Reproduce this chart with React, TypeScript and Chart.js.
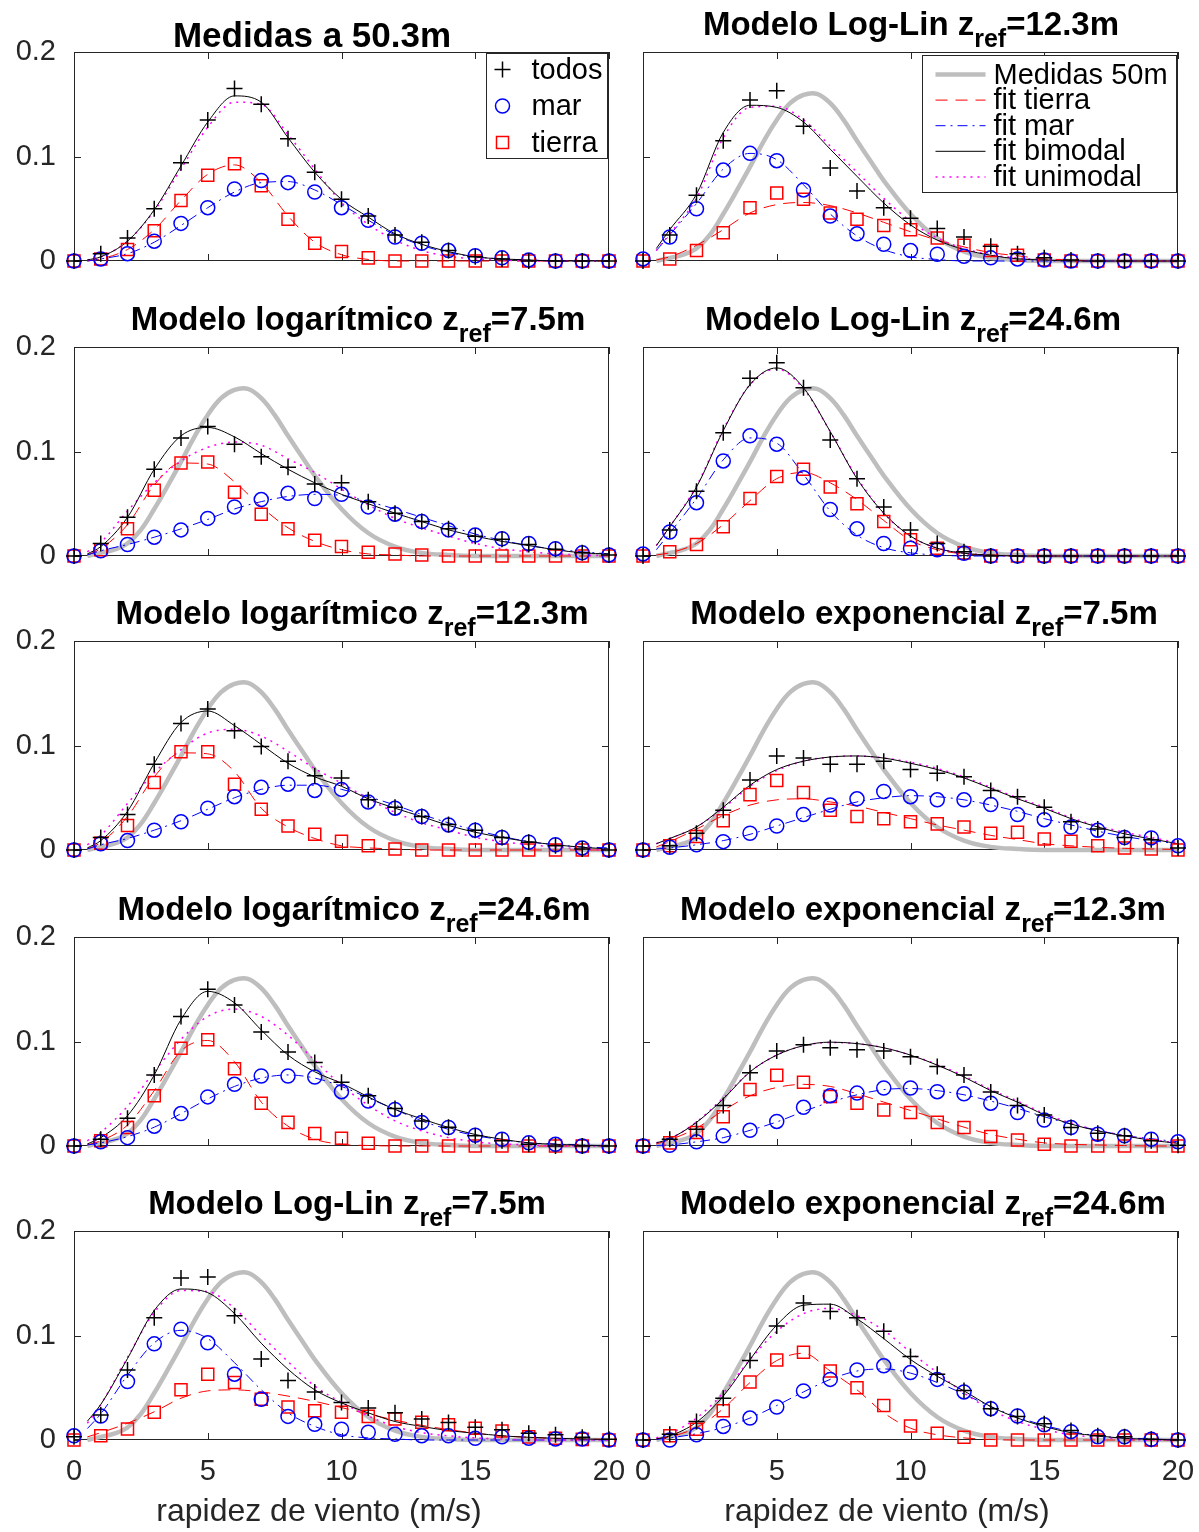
import React, { useEffect, useRef } from "react";
import { Chart, registerables } from "chart.js";

Chart.register(...registerables);

// ---------------------------------------------------------------------------
// Data
// ---------------------------------------------------------------------------

// wind-speed bins (m/s) of the normalised histograms
const viento = [0, 1, 2, 3, 4, 5, 6, 7, 8, 9, 10, 11, 12, 13, 14, 15, 16, 17, 18, 19, 20];
// abscissas of the fitted densities
const vientoFit = [0.5, 1, 2, 3, 4, 5, 6, 7, 8, 9, 10, 11, 12, 13, 14, 15, 16, 17, 18, 19, 20];

const X_TICKS = [0, 5, 10, 15, 20];
const Y_TICKS = [0, 0.1, 0.2];

// reference density measured at 50 m (sampled more finely around the mode)
const vientoRef = [0.5, 1, 1.5, 2, 2.5, 3, 3.5, 4, 4.5, 5, 5.5, 6, 6.5, 7, 7.5, 8, 8.5, 9, 10, 11, 12, 13, 14, 15, 20];
const medidas50m = [0, 0.003, 0.006, 0.012, 0.025, 0.045, 0.067, 0.09, 0.114, 0.135, 0.151, 0.159, 0.16, 0.151, 0.135, 0.115, 0.096, 0.077, 0.045, 0.022, 0.009, 0.003, 0.001, 0, 0];

// Medidas a 50.3m
const todosMed = [0, 0.007, 0.022, 0.05, 0.094, 0.135, 0.165, 0.15, 0.117, 0.085, 0.059, 0.043, 0.025, 0.018, 0.01, 0.004, 0.002, 0, 0, 0, 0];
const marMed = [0, 0.002, 0.007, 0.019, 0.036, 0.051, 0.069, 0.077, 0.075, 0.066, 0.051, 0.039, 0.023, 0.017, 0.01, 0.005, 0.003, 0.001, 0, 0, 0];
const tierraMed = [0, 0.002, 0.011, 0.029, 0.058, 0.082, 0.093, 0.072, 0.04, 0.017, 0.009, 0.003, 0, 0, 0, 0, 0, 0, 0, 0, 0];
const fitTierraMed = [0, 0.002, 0.011, 0.03, 0.058, 0.083, 0.092, 0.075, 0.043, 0.018, 0.006, 0.0015, 0, 0, 0, 0, 0, 0, 0, 0, 0];
const fitMarMed = [0, 0.002, 0.007, 0.018, 0.034, 0.051, 0.066, 0.075, 0.076, 0.068, 0.054, 0.039, 0.025, 0.015, 0.008, 0.004, 0.002, 0.001, 0, 0, 0];
const fitBiMed = [0.001, 0.004, 0.019, 0.049, 0.091, 0.133, 0.158, 0.152, 0.118, 0.085, 0.059, 0.042, 0.026, 0.016, 0.009, 0.004, 0.002, 0.001, 0, 0, 0];
const fitUniMed = [0.001, 0.004, 0.019, 0.048, 0.088, 0.128, 0.152, 0.15, 0.121, 0.088, 0.056, 0.035, 0.02, 0.01, 0.0045, 0.002, 0.001, 0, 0, 0, 0];

// Modelo Log-Lin z_ref = 12.3 m
const todosLL12 = [0, 0.025, 0.063, 0.115, 0.154, 0.163, 0.129, 0.089, 0.067, 0.051, 0.041, 0.031, 0.023, 0.014, 0.007, 0.003, 0.001, 0, 0, 0, 0];
const marLL12 = [0.002, 0.023, 0.05, 0.087, 0.103, 0.096, 0.068, 0.043, 0.026, 0.016, 0.01, 0.0065, 0.0045, 0.003, 0.002, 0.001, 0, 0, 0, 0, 0];
const tierraLL12 = [0, 0.002, 0.01, 0.027, 0.051, 0.065, 0.059, 0.046, 0.04, 0.034, 0.03, 0.022, 0.015, 0.01, 0.0055, 0.001, 0, 0, 0, 0, 0];
const fitTierraLL12 = [0.001, 0.004, 0.015, 0.03, 0.046, 0.054, 0.056, 0.053, 0.046, 0.037, 0.028, 0.02, 0.0135, 0.008, 0.005, 0.002, 0.001, 0, 0, 0, 0];
const fitMarLL12 = [0.01, 0.025, 0.055, 0.088, 0.103, 0.097, 0.073, 0.045, 0.024, 0.011, 0.004, 0.0015, 0, 0, 0, 0, 0, 0, 0, 0, 0];
const fitBiLL12 = [0.012, 0.03, 0.064, 0.123, 0.149, 0.147, 0.133, 0.107, 0.081, 0.0555, 0.0345, 0.02, 0.011, 0.0055, 0.002, 0.001, 0, 0, 0, 0, 0];
const fitUniLL12 = [0.01, 0.026, 0.06, 0.118, 0.147, 0.148, 0.135, 0.11, 0.085, 0.06, 0.038, 0.022, 0.012, 0.006, 0.003, 0.001, 0, 0, 0, 0, 0];

// Modelo logarítmico z_ref = 7.5 m
const todosLg7 = [0, 0.012, 0.037, 0.083, 0.113, 0.124, 0.107, 0.095, 0.085, 0.069, 0.07, 0.052, 0.041, 0.033, 0.026, 0.019, 0.016, 0.011, 0.0065, 0.003, 0.001];
const marLg7 = [0, 0.005, 0.011, 0.018, 0.025, 0.036, 0.047, 0.054, 0.06, 0.055, 0.059, 0.047, 0.04, 0.033, 0.025, 0.02, 0.0165, 0.012, 0.007, 0.003, 0.001];
const tierraLg7 = [0, 0.006, 0.026, 0.063, 0.089, 0.09, 0.061, 0.04, 0.026, 0.015, 0.009, 0.0035, 0.002, 0.001, 0, 0, 0, 0, 0, 0, 0];
const fitTierraLg7 = [0.001, 0.007, 0.03, 0.068, 0.089, 0.088, 0.071, 0.047, 0.027, 0.014, 0.006, 0.002, 0.001, 0, 0, 0, 0, 0, 0, 0, 0];
const fitMarLg7 = [0.001, 0.005, 0.011, 0.018, 0.026, 0.035, 0.045, 0.052, 0.057, 0.059, 0.058, 0.052, 0.045, 0.037, 0.029, 0.021, 0.015, 0.01, 0.0065, 0.004, 0.002];
const fitBiLg7 = [0.002, 0.009, 0.037, 0.083, 0.115, 0.123, 0.114, 0.098, 0.083, 0.07, 0.059, 0.05, 0.041, 0.033, 0.025, 0.019, 0.014, 0.01, 0.006, 0.003, 0.002];
const fitUniLg7 = [0.004, 0.013, 0.043, 0.07, 0.091, 0.104, 0.109, 0.106, 0.093, 0.08, 0.064, 0.049, 0.036, 0.027, 0.019, 0.012, 0.007, 0.004, 0.002, 0.001, 0];

// Modelo Log-Lin z_ref = 24.6 m
const todosLL24 = [0, 0.025, 0.062, 0.118, 0.17, 0.185, 0.161, 0.111, 0.074, 0.047, 0.025, 0.012, 0.004, 0, 0, 0, 0, 0, 0, 0, 0];
const marLL24 = [0.002, 0.023, 0.051, 0.091, 0.115, 0.107, 0.075, 0.0445, 0.026, 0.012, 0.0074, 0.006, 0.0026, 0, 0, 0, 0, 0, 0, 0, 0];
const tierraLL24 = [0, 0.004, 0.011, 0.028, 0.055, 0.076, 0.083, 0.066, 0.05, 0.033, 0.0155, 0.0074, 0.003, 0, 0, 0, 0, 0, 0, 0, 0];
const fitTierraLL24 = [0.001, 0.003, 0.012, 0.03, 0.053, 0.074, 0.08, 0.07, 0.054, 0.034, 0.015, 0.006, 0.002, 0.001, 0, 0, 0, 0, 0, 0, 0];
const fitMarLL24 = [0.006, 0.022, 0.055, 0.092, 0.113, 0.108, 0.078, 0.043, 0.02, 0.008, 0.003, 0.001, 0, 0, 0, 0, 0, 0, 0, 0, 0];
const fitBiLL24 = [0.01, 0.028, 0.066, 0.12, 0.164, 0.18, 0.161, 0.119, 0.074, 0.041, 0.019, 0.0074, 0.0026, 0.001, 0, 0, 0, 0, 0, 0, 0];
const fitUniLL24 = [0.01, 0.028, 0.067, 0.121, 0.164, 0.179, 0.16, 0.119, 0.075, 0.041, 0.019, 0.0075, 0.0027, 0.001, 0, 0, 0, 0, 0, 0, 0];

// Modelo logarítmico z_ref = 12.3 m
const todosLg12 = [0, 0.012, 0.034, 0.082, 0.121, 0.135, 0.114, 0.099, 0.085, 0.071, 0.069, 0.048, 0.041, 0.032, 0.0245, 0.019, 0.012, 0.0074, 0.004, 0.001, 0];
const marLg12 = [0, 0.006, 0.009, 0.019, 0.027, 0.04, 0.051, 0.06, 0.063, 0.057, 0.058, 0.046, 0.04, 0.032, 0.024, 0.019, 0.012, 0.0074, 0.005, 0.002, 0];
const tierraLg12 = [0, 0.0065, 0.0235, 0.0645, 0.094, 0.094, 0.063, 0.039, 0.023, 0.015, 0.0084, 0.004, 0.001, 0, 0, 0, 0, 0, 0, 0, 0];
const fitTierraLg12 = [0.001, 0.007, 0.032, 0.07, 0.093, 0.092, 0.075, 0.04, 0.022, 0.011, 0.004, 0.002, 0.001, 0, 0, 0, 0, 0, 0, 0, 0];
const fitMarLg12 = [0.001, 0.005, 0.011, 0.019, 0.028, 0.039, 0.05, 0.058, 0.062, 0.062, 0.058, 0.051, 0.043, 0.034, 0.026, 0.019, 0.013, 0.008, 0.005, 0.003, 0.002];
const fitBiLg12 = [0.002, 0.009, 0.037, 0.083, 0.122, 0.133, 0.119, 0.101, 0.083, 0.07, 0.061, 0.049, 0.04, 0.032, 0.0235, 0.017, 0.012, 0.008, 0.005, 0.0026, 0.001];
const fitUniLg12 = [0.005, 0.014, 0.0445, 0.074, 0.096, 0.112, 0.1155, 0.109, 0.0945, 0.078, 0.064, 0.049, 0.036, 0.026, 0.019, 0.012, 0.008, 0.005, 0.003, 0.001, 0];

// Modelo exponencial z_ref = 7.5 m
const todosEx7 = [0, 0.004, 0.016, 0.038, 0.067, 0.09, 0.088, 0.082, 0.082, 0.085, 0.077, 0.0735, 0.07, 0.057, 0.051, 0.041, 0.027, 0.02, 0.012, 0.0097, 0.002];
const marEx7 = [0, 0.0026, 0.005, 0.008, 0.016, 0.023, 0.034, 0.043, 0.049, 0.056, 0.051, 0.048, 0.048, 0.0435, 0.034, 0.029, 0.022, 0.019, 0.012, 0.0116, 0.004];
const tierraEx7 = [0, 0.004, 0.013, 0.028, 0.053, 0.0665, 0.055, 0.038, 0.032, 0.03, 0.027, 0.025, 0.022, 0.016, 0.017, 0.0106, 0.0084, 0.004, 0.002, 0.001, 0];
const fitTierraEx7 = [0.003, 0.008, 0.02, 0.033, 0.043, 0.048, 0.049, 0.046, 0.042, 0.036, 0.03, 0.024, 0.019, 0.014, 0.01, 0.006, 0.004, 0.0026, 0.0016, 0.001, 0.0005];
const fitMarEx7 = [0.001, 0.002, 0.005, 0.009, 0.015, 0.023, 0.031, 0.039, 0.046, 0.05, 0.052, 0.051, 0.048, 0.043, 0.037, 0.03, 0.024, 0.018, 0.013, 0.009, 0.006];
const fitBiEx7 = [0.006, 0.011, 0.022, 0.041, 0.062, 0.077, 0.085, 0.089, 0.09, 0.088, 0.083, 0.077, 0.069, 0.059, 0.049, 0.04, 0.03, 0.022, 0.0155, 0.0106, 0.006];
const fitUniEx7 = [0.006, 0.011, 0.022, 0.04, 0.061, 0.076, 0.085, 0.089, 0.09, 0.088, 0.084, 0.078, 0.07, 0.06, 0.05, 0.041, 0.031, 0.023, 0.017, 0.012, 0.007];

// Modelo logarítmico z_ref = 24.6 m
const todosLg24 = [0, 0.0065, 0.0265, 0.068, 0.124, 0.15, 0.135, 0.109, 0.09, 0.08, 0.061, 0.048, 0.036, 0.024, 0.018, 0.0097, 0.005, 0.0016, 0, 0, 0];
const marLg24 = [0, 0.004, 0.008, 0.019, 0.031, 0.047, 0.059, 0.067, 0.067, 0.066, 0.052, 0.043, 0.035, 0.0226, 0.0177, 0.0103, 0.0065, 0.003, 0.0016, 0, 0];
const tierraLg24 = [0, 0.005, 0.0177, 0.048, 0.0935, 0.1016, 0.074, 0.041, 0.0226, 0.012, 0.0074, 0.0026, 0, 0, 0, 0, 0, 0, 0, 0, 0];
const fitTierraLg24 = [0.001, 0.005, 0.02, 0.053, 0.091, 0.101, 0.0806, 0.042, 0.019, 0.0065, 0.0016, 0.0005, 0, 0, 0, 0, 0, 0, 0, 0, 0];
const fitMarLg24 = [0.001, 0.003, 0.009, 0.018, 0.031, 0.045, 0.057, 0.065, 0.068, 0.065, 0.057, 0.046, 0.035, 0.024, 0.016, 0.01, 0.006, 0.003, 0.002, 0.001, 0];
const fitBiLg24 = [0.002, 0.008, 0.029, 0.068, 0.121, 0.148, 0.137, 0.111, 0.087, 0.071, 0.06, 0.047, 0.035, 0.026, 0.0177, 0.011, 0.0065, 0.003, 0.0016, 0.0006, 0];
const fitUniLg24 = [0.005, 0.013, 0.038, 0.071, 0.102, 0.124, 0.131, 0.124, 0.106, 0.082, 0.058, 0.039, 0.024, 0.0145, 0.008, 0.004, 0.002, 0.001, 0, 0, 0];

// Modelo exponencial z_ref = 12.3 m
const todosEx12 = [0, 0.0065, 0.016, 0.0387, 0.07, 0.091, 0.097, 0.094, 0.092, 0.091, 0.0855, 0.076, 0.068, 0.0516, 0.0387, 0.0297, 0.0177, 0.0123, 0.0097, 0.005, 0.0006];
const marEx12 = [0, 0.0006, 0.004, 0.0097, 0.015, 0.0235, 0.037, 0.048, 0.0506, 0.0555, 0.0555, 0.052, 0.05, 0.041, 0.032, 0.0248, 0.0177, 0.0113, 0.0097, 0.0065, 0.004];
const tierraEx12 = [0, 0.003, 0.013, 0.028, 0.054, 0.0677, 0.061, 0.0474, 0.041, 0.0345, 0.032, 0.0226, 0.0177, 0.009, 0.0058, 0.0016, 0, 0, 0, 0, 0];
const fitTierraEx12 = [0.002, 0.006, 0.017, 0.034, 0.048, 0.056, 0.059, 0.057, 0.05, 0.042, 0.034, 0.026, 0.018, 0.011, 0.0065, 0.003, 0.0016, 0.001, 0.0004, 0, 0];
const fitMarEx12 = [0.0005, 0.001, 0.004, 0.008, 0.015, 0.023, 0.033, 0.042, 0.049, 0.054, 0.055, 0.053, 0.049, 0.043, 0.036, 0.028, 0.021, 0.015, 0.01, 0.007, 0.004];
const fitBiEx12 = [0.003, 0.007, 0.0226, 0.045, 0.071, 0.087, 0.096, 0.0994, 0.098, 0.094, 0.087, 0.0774, 0.066, 0.053, 0.042, 0.03, 0.021, 0.0145, 0.0097, 0.0055, 0.0026];
const fitUniEx12 = [0.003, 0.007, 0.023, 0.046, 0.071, 0.087, 0.096, 0.099, 0.098, 0.094, 0.087, 0.078, 0.067, 0.054, 0.043, 0.031, 0.022, 0.015, 0.01, 0.006, 0.003];

// Modelo Log-Lin z_ref = 7.5 m
const todosLL7 = [0.003, 0.024, 0.067, 0.117, 0.155, 0.156, 0.119, 0.0774, 0.057, 0.046, 0.036, 0.0306, 0.026, 0.02, 0.0168, 0.0123, 0.0097, 0.0065, 0.005, 0.0026, 0.0006];
const marLL7 = [0.004, 0.023, 0.056, 0.092, 0.106, 0.093, 0.063, 0.039, 0.0226, 0.015, 0.0103, 0.0074, 0.0055, 0.004, 0.004, 0.0016, 0.003, 0.0016, 0.001, 0.001, 0];
const tierraLL7 = [0, 0.004, 0.0106, 0.0265, 0.048, 0.063, 0.055, 0.039, 0.0316, 0.028, 0.0265, 0.0226, 0.02, 0.017, 0.0145, 0.0113, 0.0087, 0.003, 0.0016, 0.0006, 0];
const fitTierraLL7 = [0.003, 0.007, 0.016, 0.027, 0.04, 0.047, 0.048, 0.046, 0.042, 0.037, 0.031, 0.025, 0.019, 0.014, 0.01, 0.0065, 0.004, 0.0026, 0.0016, 0.001, 0.0005];
const fitMarLL7 = [0.011, 0.025, 0.062, 0.093, 0.105, 0.097, 0.074, 0.048, 0.026, 0.013, 0.005, 0.002, 0.001, 0, 0, 0, 0, 0, 0, 0, 0];
const fitBiLL7 = [0.018, 0.034, 0.078, 0.124, 0.1445, 0.141, 0.121, 0.0926, 0.0677, 0.048, 0.0355, 0.026, 0.0177, 0.013, 0.009, 0.0065, 0.004, 0.0026, 0.0016, 0.001, 0.0005];
const fitUniLL7 = [0.016, 0.034, 0.079, 0.122, 0.143, 0.142, 0.126, 0.1, 0.075, 0.0516, 0.036, 0.023, 0.013, 0.007, 0.004, 0.002, 0.001, 0, 0, 0, 0];

// Modelo exponencial z_ref = 24.6 m
const todosEx24 = [0, 0.0055, 0.0177, 0.04, 0.076, 0.109, 0.131, 0.123, 0.117, 0.104, 0.08, 0.063, 0.0474, 0.03, 0.0226, 0.0155, 0.009, 0.004, 0.003, 0.0006, 0];
const marEx24 = [0, 0, 0.005, 0.013, 0.021, 0.0316, 0.047, 0.058, 0.067, 0.071, 0.0645, 0.058, 0.046, 0.03, 0.023, 0.0145, 0.008, 0.003, 0.003, 0.0006, 0];
const tierraEx24 = [0, 0.004, 0.0103, 0.028, 0.0555, 0.0765, 0.0839, 0.066, 0.05, 0.033, 0.0135, 0.0065, 0.0026, 0, 0, 0, 0, 0, 0, 0, 0];
const fitTierraEx24 = [0.001, 0.003, 0.012, 0.03, 0.055, 0.076, 0.083, 0.066, 0.048, 0.026, 0.0113, 0.005, 0.002, 0.0005, 0, 0, 0, 0, 0, 0, 0];
const fitMarEx24 = [0.0005, 0.002, 0.006, 0.012, 0.021, 0.033, 0.046, 0.058, 0.066, 0.068, 0.064, 0.055, 0.044, 0.032, 0.022, 0.014, 0.008, 0.004, 0.002, 0.001, 0];
const fitBiEx24 = [0.001, 0.004, 0.017, 0.042, 0.077, 0.11, 0.129, 0.13, 0.116, 0.097, 0.077, 0.061, 0.047, 0.032, 0.021, 0.013, 0.007, 0.004, 0.0016, 0.0006, 0];
const fitUniEx24 = [0.002, 0.006, 0.021, 0.045, 0.077, 0.104, 0.121, 0.126, 0.119, 0.105, 0.084, 0.0645, 0.045, 0.029, 0.0177, 0.0103, 0.005, 0.0026, 0.001, 0, 0];

// ---------------------------------------------------------------------------
// Layout and styles
// ---------------------------------------------------------------------------

const FONT = "'Liberation Sans', Arial, Helvetica, sans-serif";
const AXIS_COLOR = "#262626";
const GRAY = "#BEBEBE";
const RED = "#FF0000";
const BLUE = "#0000FF";
const MAGENTA = "#FF00FF";

const COL_LEFT = [74, 643];
const BOX_W = 535;
const ROW_TOP = [52, 347, 641, 937, 1231];
const BOX_H = 209;
const TICK_LEN = 7;
const XLABEL_CENTER = [319, 887];

const DASH_TIERRA = [12, 8];
const DASH_MAR = [10, 5, 2, 5];
const DASH_UNI = [2, 5];

type PanelDef = {
  row: number;
  col: number;
  title: string;
  sub?: string;
  tail?: string;
  cx: number;
  size: number;
  todos: number[];
  mar: number[];
  tierra: number[];
  fitTierra: number[];
  fitMar: number[];
  fitBi: number[];
  fitUni: number[];
  ref: boolean;
  legend?: "markers" | "fits";
};

const PANELS: PanelDef[] = [
  { row: 0, col: 0, title: "Medidas a 50.3m", cx: 312, size: 35, todos: todosMed, mar: marMed, tierra: tierraMed, fitTierra: fitTierraMed, fitMar: fitMarMed, fitBi: fitBiMed, fitUni: fitUniMed, ref: false, legend: "markers" },
  { row: 0, col: 1, title: "Modelo Log-Lin z", sub: "ref", tail: "=12.3m", cx: 911, size: 33, todos: todosLL12, mar: marLL12, tierra: tierraLL12, fitTierra: fitTierraLL12, fitMar: fitMarLL12, fitBi: fitBiLL12, fitUni: fitUniLL12, ref: true, legend: "fits" },
  { row: 1, col: 0, title: "Modelo logarítmico z", sub: "ref", tail: "=7.5m", cx: 358, size: 33, todos: todosLg7, mar: marLg7, tierra: tierraLg7, fitTierra: fitTierraLg7, fitMar: fitMarLg7, fitBi: fitBiLg7, fitUni: fitUniLg7, ref: true },
  { row: 1, col: 1, title: "Modelo Log-Lin z", sub: "ref", tail: "=24.6m", cx: 913, size: 33, todos: todosLL24, mar: marLL24, tierra: tierraLL24, fitTierra: fitTierraLL24, fitMar: fitMarLL24, fitBi: fitBiLL24, fitUni: fitUniLL24, ref: true },
  { row: 2, col: 0, title: "Modelo logarítmico z", sub: "ref", tail: "=12.3m", cx: 352, size: 33, todos: todosLg12, mar: marLg12, tierra: tierraLg12, fitTierra: fitTierraLg12, fitMar: fitMarLg12, fitBi: fitBiLg12, fitUni: fitUniLg12, ref: true },
  { row: 2, col: 1, title: "Modelo exponencial z", sub: "ref", tail: "=7.5m", cx: 924, size: 33, todos: todosEx7, mar: marEx7, tierra: tierraEx7, fitTierra: fitTierraEx7, fitMar: fitMarEx7, fitBi: fitBiEx7, fitUni: fitUniEx7, ref: true },
  { row: 3, col: 0, title: "Modelo logarítmico z", sub: "ref", tail: "=24.6m", cx: 354, size: 33, todos: todosLg24, mar: marLg24, tierra: tierraLg24, fitTierra: fitTierraLg24, fitMar: fitMarLg24, fitBi: fitBiLg24, fitUni: fitUniLg24, ref: true },
  { row: 3, col: 1, title: "Modelo exponencial z", sub: "ref", tail: "=12.3m", cx: 923, size: 33, todos: todosEx12, mar: marEx12, tierra: tierraEx12, fitTierra: fitTierraEx12, fitMar: fitMarEx12, fitBi: fitBiEx12, fitUni: fitUniEx12, ref: true },
  { row: 4, col: 0, title: "Modelo Log-Lin z", sub: "ref", tail: "=7.5m", cx: 347, size: 33, todos: todosLL7, mar: marLL7, tierra: tierraLL7, fitTierra: fitTierraLL7, fitMar: fitMarLL7, fitBi: fitBiLL7, fitUni: fitUniLL7, ref: true },
  { row: 4, col: 1, title: "Modelo exponencial z", sub: "ref", tail: "=24.6m", cx: 923, size: 33, todos: todosEx24, mar: marEx24, tierra: tierraEx24, fitTierra: fitTierraEx24, fitMar: fitMarEx24, fitBi: fitBiEx24, fitUni: fitUniEx24, ref: true },
];

// ---------------------------------------------------------------------------
// Chart helpers
// ---------------------------------------------------------------------------

const pts = (xs: number[], ys: number[]) => xs.map((x, i) => ({ x, y: ys[i] }));

function curve(
  label: string,
  xs: number[],
  ys: number[],
  color: string,
  width: number,
  dash: number[],
  order: number,
  smooth = false
) {
  return {
    label,
    data: pts(xs, ys),
    borderColor: color,
    backgroundColor: color,
    borderWidth: width,
    borderDash: dash,
    pointRadius: 0,
    pointHoverRadius: 0,
    fill: false,
    cubicInterpolationMode: smooth ? "default" : "monotone",
    tension: smooth ? 0.4 : 0,
    order,
    clip: false,
  };
}

function markers(label: string, ys: number[], color: string, style: string, radius: number, order: number) {
  return {
    label,
    data: pts(viento, ys),
    showLine: false,
    pointStyle: style,
    pointRadius: radius,
    pointHoverRadius: radius,
    pointBorderColor: color,
    pointBackgroundColor: "rgba(0,0,0,0)",
    pointBorderWidth: 1.5,
    borderColor: color,
    backgroundColor: "rgba(0,0,0,0)",
    order,
    clip: false,
  };
}

function drawMarker(ctx: CanvasRenderingContext2D, style: string, x: number, y: number, color: string) {
  ctx.save();
  ctx.strokeStyle = color;
  ctx.lineWidth = 1.5;
  ctx.setLineDash([]);
  ctx.beginPath();
  if (style === "cross") {
    ctx.moveTo(x - 8, y);
    ctx.lineTo(x + 8, y);
    ctx.moveTo(x, y - 8);
    ctx.lineTo(x, y + 8);
  } else if (style === "circle") {
    ctx.arc(x, y, 7, 0, Math.PI * 2);
  } else {
    ctx.rect(x - 6, y - 6, 12, 12);
  }
  ctx.stroke();
  ctx.restore();
}

function makeFramePlugin(legend?: "markers" | "fits") {
  return {
    id: "frame",
    beforeDatasetsDraw(chart: any) {
      const { ctx, chartArea: a, scales } = chart;
      const x = scales.x;
      const y = scales.y;
      ctx.save();
      ctx.strokeStyle = AXIS_COLOR;
      ctx.lineWidth = 1;
      ctx.setLineDash([]);
      ctx.strokeRect(a.left + 0.5, a.top + 0.5, a.right - a.left - 1, a.bottom - a.top - 1);
      ctx.beginPath();
      for (const v of X_TICKS) {
        const px = Math.round(x.getPixelForValue(v)) + 0.5;
        ctx.moveTo(px, a.bottom);
        ctx.lineTo(px, a.bottom - TICK_LEN);
        ctx.moveTo(px, a.top);
        ctx.lineTo(px, a.top + TICK_LEN);
      }
      for (const v of Y_TICKS) {
        const py = Math.round(y.getPixelForValue(v)) + 0.5;
        ctx.moveTo(a.left, py);
        ctx.lineTo(a.left + TICK_LEN, py);
        ctx.moveTo(a.right, py);
        ctx.lineTo(a.right - TICK_LEN, py);
      }
      ctx.stroke();
      ctx.restore();
    },
    afterDraw(chart: any) {
      if (!legend) return;
      const { ctx, chartArea: a } = chart;
      ctx.save();
      ctx.font = `29px ${FONT}`;
      ctx.textBaseline = "middle";
      ctx.textAlign = "left";
      if (legend === "markers") {
        const bw = 121;
        const bh = 105;
        const bx = Math.round(a.right - bw - 2) + 0.5;
        const by = Math.round(a.top + 1) + 0.5;
        ctx.fillStyle = "#FFFFFF";
        ctx.fillRect(bx, by, bw, bh);
        ctx.strokeStyle = AXIS_COLOR;
        ctx.lineWidth = 1;
        ctx.strokeRect(bx, by, bw, bh);
        const items: [string, string, string][] = [
          ["todos", "cross", "#000000"],
          ["mar", "circle", BLUE],
          ["tierra", "rect", RED],
        ];
        items.forEach(([label, style, color], i) => {
          const cy = by + 16 + i * 36.5;
          drawMarker(ctx, style, bx + 16, cy, color);
          ctx.fillStyle = "#000000";
          ctx.fillText(label, bx + 45, cy + 1);
        });
      } else {
        const bw = 254;
        const bh = 137;
        const bx = Math.round(a.right - bw - 2) + 0.5;
        const by = Math.round(a.top + 3) + 0.5;
        ctx.fillStyle = "#FFFFFF";
        ctx.fillRect(bx, by, bw, bh);
        ctx.strokeStyle = AXIS_COLOR;
        ctx.lineWidth = 1;
        ctx.strokeRect(bx, by, bw, bh);
        const items: [string, string, number, number[]][] = [
          ["Medidas 50m", GRAY, 4.5, []],
          ["fit tierra", RED, 1, DASH_TIERRA],
          ["fit mar", BLUE, 1, DASH_MAR],
          ["fit bimodal", "#000000", 1, []],
          ["fit unimodal", MAGENTA, 1.5, DASH_UNI],
        ];
        items.forEach(([label, color, w, dash], i) => {
          const cy = by + 19 + i * 25.6;
          ctx.save();
          ctx.strokeStyle = color;
          ctx.lineWidth = w;
          ctx.setLineDash(dash);
          ctx.beginPath();
          ctx.moveTo(bx + 13, cy);
          ctx.lineTo(bx + 63, cy);
          ctx.stroke();
          ctx.restore();
          ctx.fillStyle = "#000000";
          ctx.fillText(label, bx + 71, cy + 1);
        });
      }
      ctx.restore();
    },
  };
}

function geometry(p: PanelDef) {
  const axW = p.col === 0 ? 74 : 34;
  const padT = 40;
  const padR = 40;
  const padB = p.row === 4 ? 70 : 40;
  const boxL = COL_LEFT[p.col];
  const boxT = ROW_TOP[p.row];
  return {
    axW,
    padT,
    padR,
    padB,
    x: boxL - axW,
    y: boxT - padT,
    w: axW + BOX_W + padR,
    h: padT + BOX_H + padB,
  };
}

function PanelChart({ p }: { p: PanelDef }) {
  const ref = useRef<HTMLCanvasElement | null>(null);
  const g = geometry(p);

  useEffect(() => {
    if (!ref.current) return;
    const datasets: any[] = [];
    if (p.ref) datasets.push(curve("Medidas 50m", vientoRef, medidas50m, GRAY, 4.5, [], 10, true));
    datasets.push(curve("fit tierra", vientoFit, p.fitTierra, RED, 1, DASH_TIERRA, 8));
    datasets.push(curve("fit mar", vientoFit, p.fitMar, BLUE, 1, DASH_MAR, 7));
    datasets.push(curve("fit unimodal", vientoFit, p.fitUni, MAGENTA, 1.5, DASH_UNI, 6));
    datasets.push(curve("fit bimodal", vientoFit, p.fitBi, "#000000", 1, [], 5));
    datasets.push(markers("tierra", p.tierra, RED, "rect", 8.5, 3));
    datasets.push(markers("mar", p.mar, BLUE, "circle", 7, 2));
    datasets.push(markers("todos", p.todos, "#000000", "cross", 8, 1));

    const bottom = p.row === 4;
    const left = p.col === 0;
    const tickFont = { family: FONT, size: 29 };

    const chart = new Chart(ref.current, {
      type: "line",
      data: { datasets },
      plugins: [makeFramePlugin(p.legend)],
      options: {
        animation: false,
        responsive: false,
        maintainAspectRatio: false,
        devicePixelRatio: 1,
        events: [],
        layout: { padding: { top: g.padT, right: g.padR, left: 0, bottom: 0 } },
        plugins: {
          legend: { display: false },
          tooltip: { enabled: false },
          title: { display: false },
        },
        scales: {
          x: {
            type: "linear",
            min: 0,
            max: 20,
            afterBuildTicks: (s: any) => {
              s.ticks = X_TICKS.map((v) => ({ value: v }));
            },
            afterFit: (s: any) => {
              s.height = g.padB;
            },
            ticks: {
              display: bottom,
              font: tickFont,
              color: AXIS_COLOR,
              padding: 15,
              maxRotation: 0,
              autoSkip: false,
              callback: (v: any) => String(v),
            },
            grid: { display: false, drawTicks: false },
            border: { display: false },
          },
          y: {
            type: "linear",
            min: 0,
            max: 0.2,
            afterBuildTicks: (s: any) => {
              s.ticks = Y_TICKS.map((v) => ({ value: v }));
            },
            afterFit: (s: any) => {
              s.width = g.axW;
            },
            ticks: {
              display: left,
              font: tickFont,
              color: AXIS_COLOR,
              padding: 18,
              callback: (v: any) => (Number(v) === 0 ? "0" : Number(v).toFixed(1)),
            },
            grid: { display: false, drawTicks: false },
            border: { display: false },
          },
        },
      } as any,
    } as any);
    return () => chart.destroy();
  }, []);

  return (
    <canvas
      ref={ref}
      width={g.w}
      height={g.h}
      style={{ position: "absolute", left: g.x, top: g.y, width: g.w, height: g.h }}
    />
  );
}

function Title({ p }: { p: PanelDef }) {
  const boxT = ROW_TOP[p.row];
  const top = p.sub ? boxT - 45 : boxT - 35;
  return (
    <div
      style={{
        position: "absolute",
        left: p.cx,
        top,
        transform: "translateX(-50%)",
        whiteSpace: "nowrap",
        font: `bold ${p.size}px ${FONT}`,
        lineHeight: `${p.size}px`,
        color: "#000000",
      }}
    >
      {p.title}
      {p.sub && (
        <span style={{ fontSize: 25, position: "relative", top: 12 }}>{p.sub}</span>
      )}
      {p.tail}
    </div>
  );
}

export default function App() {
  const xlabel = "rapidez de viento (m/s)";
  return (
    <div
      style={{
        position: "absolute",
        left: 0,
        top: 0,
        width: 1199,
        height: 1532,
        background: "#FFFFFF",
        overflow: "hidden",
        fontFamily: FONT,
      }}
    >
      {PANELS.map((p, i) => (
        <PanelChart key={`c${i}`} p={p} />
      ))}
      {PANELS.map((p, i) => (
        <Title key={`t${i}`} p={p} />
      ))}
      {XLABEL_CENTER.map((cx, i) => (
        <div
          key={`xl${i}`}
          style={{
            position: "absolute",
            left: cx,
            top: 1494,
            transform: "translateX(-50%)",
            whiteSpace: "nowrap",
            fontSize: 32,
            lineHeight: "32px",
            color: AXIS_COLOR,
          }}
        >
          {xlabel}
        </div>
      ))}
    </div>
  );
}
